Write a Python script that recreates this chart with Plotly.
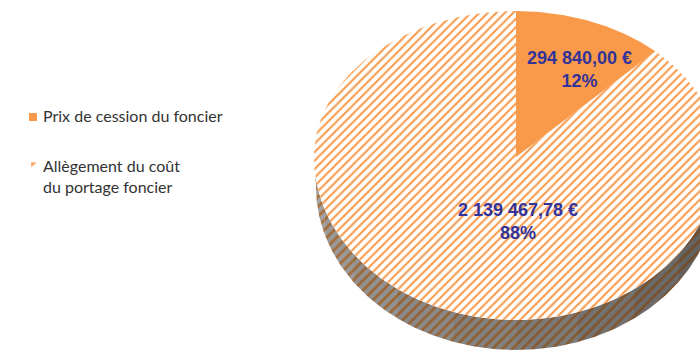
import numpy as np
import plotly.graph_objects as go

# Data
categories = ["Prix de cession du foncier", "Allègement du coût<br>du portage foncier"]
amounts = [294840.00, 2139467.78]
amount_labels = ["294 840,00 €", "2 139 467,78 €"]
percent_labels = ["12%", "88%"]

ORANGE = "#F9994A"
NAVY = "#333399"

# Tilted disc geometry, in page pixels
CX, CY = 516, 157
RX = 202
RY_BACK, RY_FRONT = 146, 163
DEPTH = 30


def rim(theta, rx=RX, drop=0.0):
    """Clockwise angle from 12 o'clock to a point on the tilted disc outline."""
    c = np.cos(theta)
    ry = np.where(c >= 0, RY_BACK, RY_FRONT)
    return CX + rx * np.sin(theta), CY - ry * c + drop


fractions = np.array(amounts) / sum(amounts)
split = 2 * np.pi * fractions[0]

fig = go.Figure()

# Side wall, split into segments so the shading can darken towards the right
edges = np.linspace(np.pi * 0.5, np.pi * 1.5, 11)
for i in range(10):
    t = np.linspace(edges[i], edges[i + 1] + 0.005, 24)
    xt, yt = rim(t)
    xb, yb = rim(t[::-1], rx=RX - 2, drop=DEPTH)
    k = (i + 0.5) / 10  # 0 at the right, 1 at the left
    grey = int(88 + 78 * k)
    brown = (int(104 + 70 * k), int(70 + 44 * k), int(40 + 18 * k))
    fig.add_trace(go.Scatter(
        x=np.r_[xt, xb], y=np.r_[yt, yb], mode="lines", fill="toself",
        line=dict(width=0), fillcolor=f"rgb({grey},{grey},{grey})",
        fillpattern=dict(shape="/", size=7, solidity=0.38, fgopacity=1,
                         fgcolor=f"rgb{brown}", bgcolor=f"rgb({grey},{grey},{grey})"),
        hoverinfo="skip", showlegend=False,
    ))

# Hatched slice
t = np.linspace(split, 2 * np.pi, 300)
xs, ys = rim(t)
fig.add_trace(go.Scatter(
    x=np.r_[CX, xs, CX], y=np.r_[CY, ys, CY], mode="lines", fill="toself",
    line=dict(width=0), fillcolor="white",
    fillpattern=dict(shape="/", size=6, solidity=0.35, fgopacity=1, fgcolor=ORANGE, bgcolor="white"),
    hoverinfo="skip", showlegend=False,
))

# Solid slice
t = np.linspace(0, split, 80)
xs, ys = rim(t)
fig.add_trace(go.Scatter(
    x=np.r_[CX, xs, CX], y=np.r_[CY, ys, CY], mode="lines", fill="toself",
    line=dict(width=0), fillcolor=ORANGE, hoverinfo="skip", showlegend=False,
))

# Legend keys
fig.add_trace(go.Scatter(
    x=[33, 33], y=[117, 164], mode="markers",
    marker=dict(symbol=["square", "triangle-nw"], size=[8, 6], color=[ORANGE, "#F9A86A"],
                opacity=1, line=dict(width=0)),
    hoverinfo="skip", showlegend=False,
))

# Legend texts
for y, name in zip([115, 175.5], categories):
    fig.add_annotation(x=41, y=y, text=name, showarrow=False, xanchor="left", yanchor="middle",
                       align="left", font=dict(family="Lato", size=16, color="#333333"))

# Slice labels
for (x, y), amount, pct in zip([(579, 69), (518, 221.5)], amount_labels, percent_labels):
    fig.add_annotation(x=x, y=y, text=f"{amount}<br>{pct}", showarrow=False, align="center",
                       font=dict(family="Liberation Sans", size=18, color=NAVY, weight="bold"))

fig.update_layout(
    width=700, height=350, margin=dict(l=0, r=0, t=0, b=0),
    paper_bgcolor="white", plot_bgcolor="white", showlegend=False,
    xaxis=dict(range=[0, 700], visible=False, fixedrange=True),
    yaxis=dict(range=[350, 0], visible=False, fixedrange=True),
)

fig.write_html("out.html", config={"displayModeBar": False})
